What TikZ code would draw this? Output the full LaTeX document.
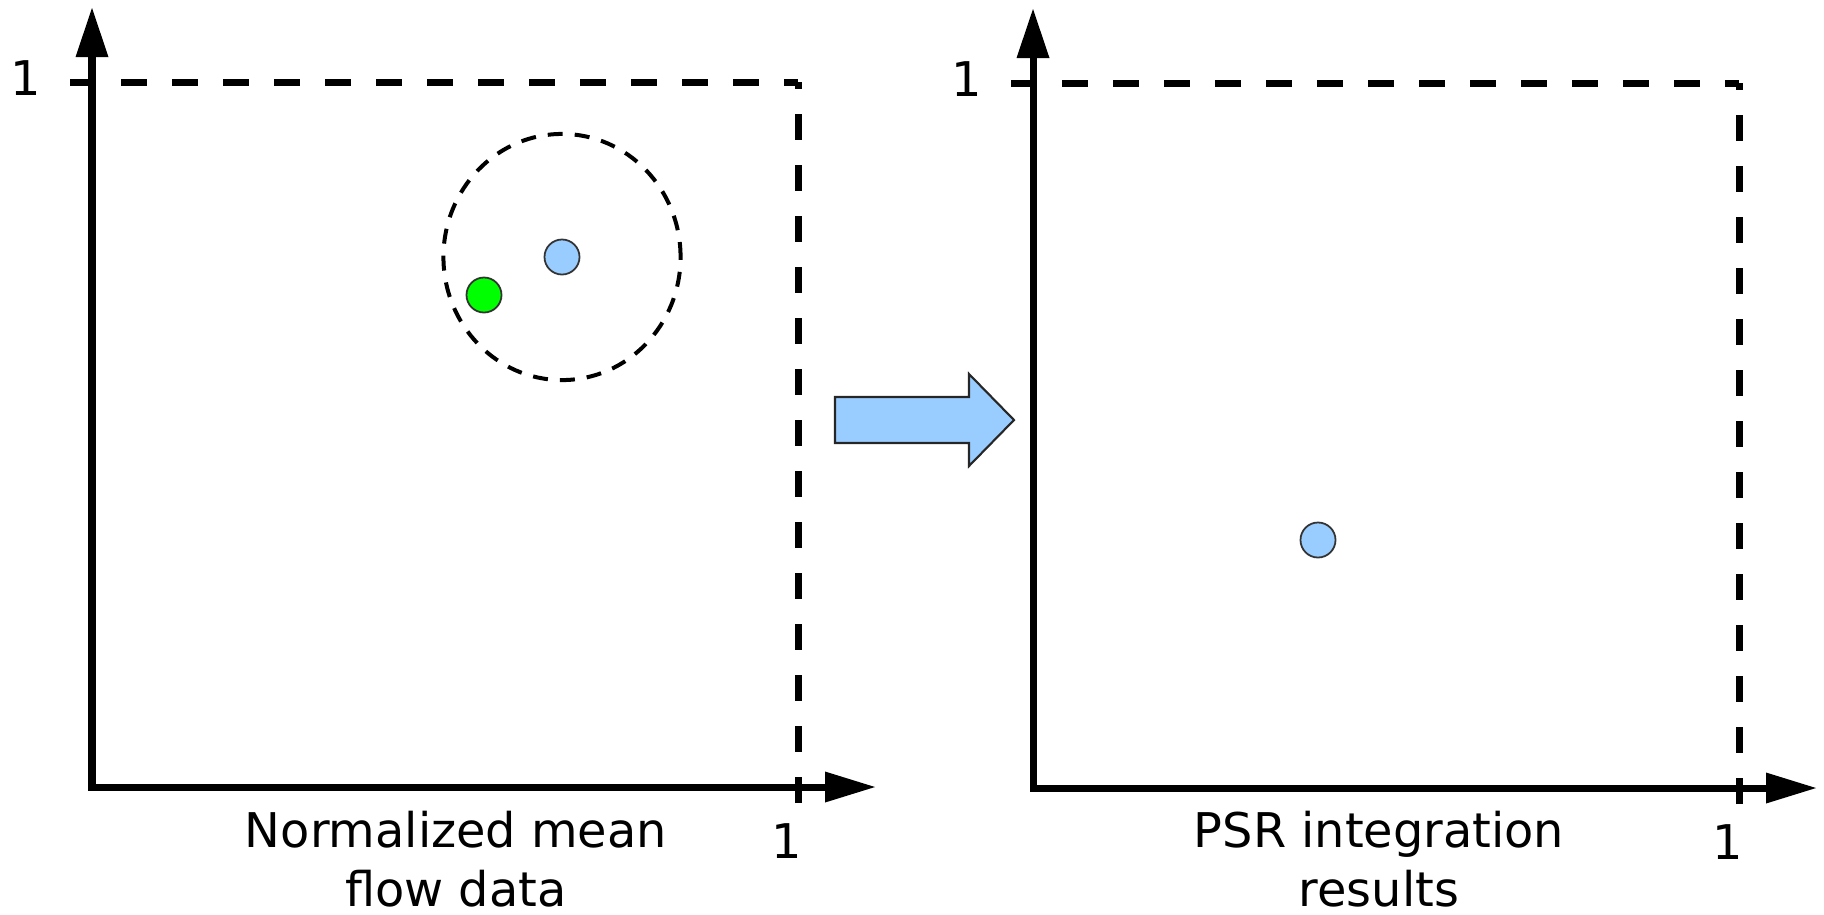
\documentclass[tikz,border=0pt]{standalone}
\usepackage{fontspec}
\setmainfont{DejaVu Sans}
\definecolor{pointblue}{HTML}{99CCFF}
\definecolor{pointgreen}{HTML}{00FF00}
\tikzset{
  axisline/.style={line width=0.07cm, line join=miter},
  boundline/.style={line width=0.07cm, dash pattern=on 0.26cm off 0.25cm},
  rangeline/.style={line width=0.04cm, dash pattern=on 0.15cm off 0.12cm},
  tip/.style={fill=black},
  ticklabel/.style={anchor=base, inner sep=0pt, font=\fontsize{13.6pt}{16.5pt}\selectfont},
  caption/.style={anchor=base, inner sep=0pt, align=center, font=\fontsize{13.6pt}{16.5pt}\selectfont},
  datapoint/.style={circle, draw=black!80, line width=0.5pt, inner sep=0pt, minimum size=0.35cm},
  bigarrow/.style={fill=pointblue, draw=black!85, line width=0.6pt, line join=miter}
}
\begin{document}
\begin{tikzpicture}[x=0.01cm, y=-0.01cm]
  \useasboundingbox (0,0) rectangle (1824,914);

  % two unit-square plots: axes, dashed unit bounds and tick labels
  \foreach \dx/\dy/\nm in {0/0/L, 941/1/R}{
    \begin{scope}[shift={(\dx,\dy)}]
      \coordinate (\nm-origin) at (92,787);
      \coordinate (\nm-ybase) at (92,57);
      \coordinate (\nm-xbase) at (825,787);
      \coordinate (\nm-ytip) at (92,8);
      \coordinate (\nm-xtip) at (875,787);
      \coordinate (\nm-topleft) at (70,82);
      \coordinate (\nm-corner) at (798,82);
      \coordinate (\nm-bottom) at (798,803);
      \draw[axisline] (\nm-ybase) -- (\nm-origin) -- (\nm-xbase);
      \fill[tip] (\nm-ytip) -- (75.5,57) -- (108.5,57) -- cycle;
      \fill[tip] (\nm-xtip) -- (825,771.5) -- (825,802.5) -- cycle;
      \draw[boundline] (\nm-topleft) -- (\nm-corner);
      \draw[boundline] (\nm-bottom) -- (\nm-corner);
      \node[ticklabel] (\nm-yone) at (26,95) {1};
      \node[ticklabel] (\nm-xone) at (787,858) {1};
    \end{scope}
  }

  % left plot: neighbourhood of the mean point
  \draw[rangeline] (562,257) ellipse [x radius=1.185cm, y radius=1.23cm];
  \node[datapoint, fill=pointgreen] (sample) at (484,295) {};
  \node[datapoint, fill=pointblue] (mean) at (562,257) {};

  % transition arrow
  \draw[bigarrow] (835,397) -- (969,397) -- (969,374) -- (1014,420) -- (969,466)
    -- (969,443) -- (835,443) -- cycle;

  % right plot: integrated result
  \node[datapoint, fill=pointblue] (result) at (1318,540) {};

  % captions (base anchor sits on the last line)
  \node[caption] (leftcap) at (456,906) {Normalized mean\\flow data};
  \node[caption] (rightcap) at (1379,906) {PSR integration\\results};
\end{tikzpicture}
\end{document}
